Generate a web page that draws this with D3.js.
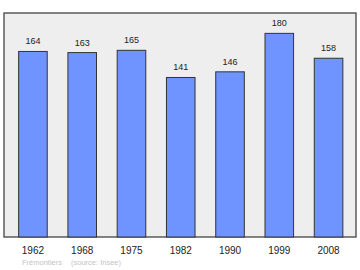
<!DOCTYPE html>
<html>
<head>
  <meta charset="utf-8">
  <script src="https://d3js.org/d3.v7.min.js"></script>
  <style>
    body { margin: 0; background: #fff; }
  </style>
</head>
<body>
  <div id="chart"></div>
  <script>
    // population by census year
    var years = ["1962", "1968", "1975", "1982", "1990", "1999", "2008"];
    var population = [164, 163, 165, 141, 146, 180, 158];
    var place = "Frémontiers";
    var source = "(source: Insee)";

    var width = 360, height = 270;
    var frame = { left: 4, top: 13, right: 356, bottom: 237 };

    var svg = d3.select("#chart")
      .append("svg")
      .attr("width", width)
      .attr("height", height)
      .style("font-family", "'Liberation Sans', Arial, sans-serif");

    // plot background
    svg.append("rect")
      .attr("x", frame.left)
      .attr("y", frame.top)
      .attr("width", frame.right - frame.left)
      .attr("height", frame.bottom - frame.top)
      .style("fill", "#eeeeee")
      .style("stroke", "#444")
      .style("stroke-width", 1.3);

    var x = d3.scaleBand()
      .domain(years)
      .range([8.3, 353.2])
      .paddingInner(0.42)
      .paddingOuter(0.21);

    var y = d3.scaleLinear()
      .domain([0, 198])
      .range([frame.bottom, frame.top]);

    var data = years.map(function(d, i) { return { year: d, value: population[i] }; });

    // bars
    svg.append("g")
      .selectAll("rect")
      .data(data)
      .enter()
      .append("rect")
      .attr("x", function(d) { return x(d.year); })
      .attr("y", function(d) { return y(d.value); })
      .attr("width", x.bandwidth())
      .attr("height", function(d) { return frame.bottom - y(d.value); })
      .style("fill", "#7094ff")
      .style("stroke", "#333")
      .style("stroke-width", 1);

    // value labels
    svg.append("g")
      .selectAll("text")
      .data(data)
      .enter()
      .append("text")
      .attr("x", function(d) { return x(d.year) + x.bandwidth() / 2; })
      .attr("y", function(d) { return y(d.value) - 7; })
      .style("text-anchor", "middle")
      .style("font-size", "9px")
      .style("fill", "#222")
      .text(function(d) { return d.value; });

    // x axis labels
    var xAxis = svg.append("g")
      .attr("transform", "translate(0," + frame.bottom + ")")
      .call(d3.axisBottom(x).tickSize(0).tickPadding(10));
    xAxis.select(".domain").remove();
    xAxis.selectAll("text")
      .style("font-family", "'Liberation Sans', Arial, sans-serif")
      .style("font-size", "10px")
      .style("fill", "#222");

    // footer
    svg.append("text")
      .attr("x", 22)
      .attr("y", 265)
      .style("font-size", "7.5px")
      .style("fill", "#c4c4c4")
      .text(place);
    svg.append("text")
      .attr("x", 71)
      .attr("y", 265)
      .style("font-size", "7.5px")
      .style("fill", "#c4c4c4")
      .text(source);
  </script>
</body>
</html>
